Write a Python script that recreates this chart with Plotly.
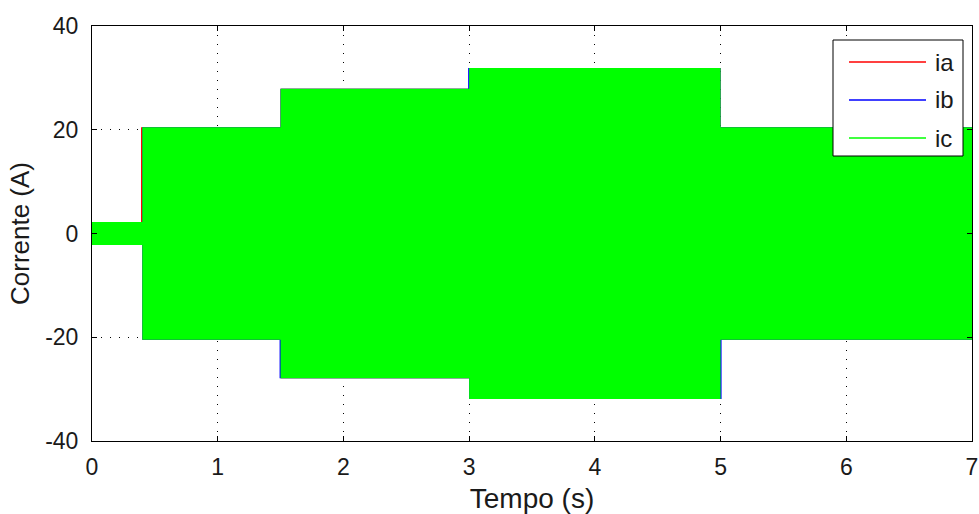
import plotly.graph_objects as go

# Segment boundaries (s) and envelope amplitudes (A) per segment
t_bounds = [0.0, 0.4, 1.5, 3.0, 5.0, 7.0]
amp_ia = [2.2, 20.5, 27.9, 31.9, 20.5]
amp_ib = [2.2, 20.5, 27.9, 31.9, 20.5]
amp_ic = [2.2, 20.5, 27.9, 31.9, 20.5]

# Per-phase switching instants (upper / lower envelope), slightly offset
ia_upper_t = [0.0, 0.390, 1.5, 3.0, 5.0, 7.0]
ia_lower_t = [0.0, 0.4, 1.5, 3.0, 5.0, 7.0]
ib_upper_t = [0.0, 0.4, 1.5, 2.992, 5.0, 7.0]
ib_lower_t = [0.0, 0.4, 1.492, 3.0, 5.008, 7.0]
ic_upper_t = [0.0, 0.4, 1.5, 3.0, 5.0, 7.0]
ic_lower_t = [0.0, 0.4, 1.5, 3.0, 5.0, 7.0]

x_ticks = [0, 1, 2, 3, 4, 5, 6, 7]
y_ticks = [-40, -20, 0, 20, 40]
y_tick_text = ["-40", "-20", "0", "20", "40"]

names = ["ia", "ib", "ic"]
colors = ["#ff0000", "#0000ff", "#00ff00"]

FONT = "Liberation Sans, Arial, sans-serif"
TXT = "#1a1a1a"


def envelope(up_t, lo_t, amps):
    xs, ys = [], []
    for i, a in enumerate(amps):
        xs += [up_t[i], up_t[i + 1]]
        ys += [a, a]
    lx, ly = [], []
    for i, a in enumerate(amps):
        lx += [lo_t[i], lo_t[i + 1]]
        ly += [-a, -a]
    xs += lx[::-1]
    ys += ly[::-1]
    return xs, ys


phases = [
    (ia_upper_t, ia_lower_t, amp_ia),
    (ib_upper_t, ib_lower_t, amp_ib),
    (ic_upper_t, ic_lower_t, amp_ic),
]

fig = go.Figure()
for (ut, lt, a), c, n in zip(phases, colors, names):
    x, y = envelope(ut, lt, a)
    fig.add_trace(go.Scatter(x=x, y=y, mode="lines", fill="toself", name=n,
                             fillcolor=c, line=dict(width=0, color=c),
                             showlegend=False, hoverinfo="skip"))

axis_common = dict(
    showline=True, linecolor="black", linewidth=1, mirror="ticks",
    ticks="inside", ticklen=5, tickcolor="black",
    showgrid=True, gridcolor="black", gridwidth=1, griddash="1px,8px",
    zeroline=False, automargin=False,
    tickfont=dict(family=FONT, size=23, color=TXT),
)

fig.update_xaxes(range=[0, 7], tickvals=x_ticks, ticktext=[str(v) for v in x_ticks],
                 ticklabelstandoff=5,
                 title=dict(text="Tempo (s)", standoff=10,
                            font=dict(family=FONT, size=28, color=TXT)),
                 **axis_common)
fig.update_yaxes(range=[-40, 40], tickvals=y_ticks, ticktext=y_tick_text,
                 ticklabelstandoff=8,
                 title=dict(text="Corrente (A)", standoff=8,
                            font=dict(family=FONT, size=26, color=TXT)),
                 **axis_common)

# Legend box (drawn in paper coordinates), MATLAB style
L, R, T, B = 92, 972, 26, 441


def px(xp):
    return (xp - L) / (R - L)


def py(yp):
    return (B - yp) / (B - T)


shapes = [dict(type="rect", xref="paper", yref="paper",
               x0=px(833), x1=px(963), y0=py(156), y1=py(40),
               line=dict(color="black", width=1), fillcolor="white", layer="above")]
annotations = []
for i, (n, c) in enumerate(zip(names, colors)):
    yy = 62 + 38 * i
    shapes.append(dict(type="line", xref="paper", yref="paper",
                       x0=px(849), x1=px(926), y0=py(yy), y1=py(yy),
                       line=dict(color=c, width=1.5), layer="above"))
    annotations.append(dict(xref="paper", yref="paper", x=px(933), y=py(yy),
                            text=n, showarrow=False, xanchor="left", yanchor="middle",
                            font=dict(family=FONT, size=24, color=TXT)))

fig.update_layout(
    width=979, height=514,
    margin=dict(l=L, r=979 - R, t=T, b=514 - B),
    paper_bgcolor="white", plot_bgcolor="white",
    showlegend=False,
    shapes=shapes, annotations=annotations,
)

fig.write_html("out.html", config={"displayModeBar": False},
               post_script="document.body.style.margin='0';document.body.style.padding='0';")
